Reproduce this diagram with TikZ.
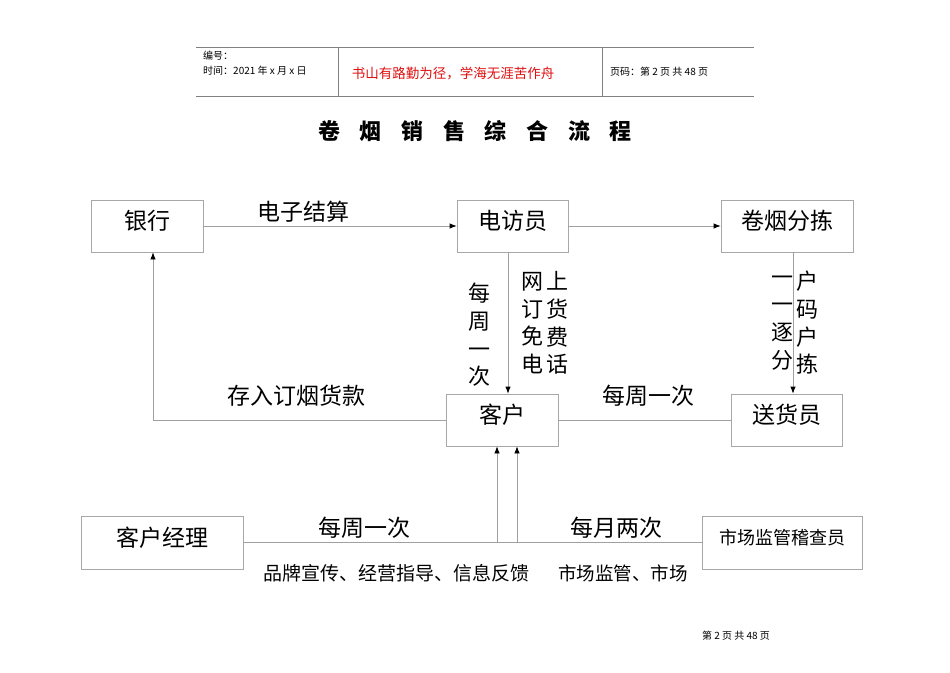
\documentclass[tikz,border=0pt]{standalone}
\usepackage{fontspec}
\setmainfont{Noto Sans CJK SC}
\usetikzlibrary{arrows.meta,calc}
\definecolor{boxgray}{HTML}{A8A8A8}
\definecolor{linegray}{HTML}{A0A0A0}
\definecolor{hdrgray}{HTML}{808080}
\definecolor{redtxt}{HTML}{E01010}
\tikzset{
  box/.style={draw=boxgray, line width=0.8pt, fill=white, inner sep=0pt, font=\fontsize{23}{27}\selectfont, text height=20pt, text depth=13pt},
  conn/.style={draw=linegray, line width=0.8pt},
  arr/.style={conn, -{Latex[length=7pt,width=5.5pt,color=black]}},
  lbl/.style={inner sep=0pt, font=\fontsize{23}{27}\selectfont},
  vlbl/.style={inner sep=0pt, align=center, font=\fontsize{22}{27.7}\selectfont},
  small/.style={inner sep=0pt, font=\fontsize{10}{12}\selectfont, anchor=west},
}
\begin{document}
\begin{tikzpicture}[x=1pt,y=-1pt]
\useasboundingbox (0,0) rectangle (950,672);
\fill[white] (0,0) rectangle (950,672);
% header
\draw[hdrgray, line width=0.8pt] (196,47) -- (754,47);
\draw[hdrgray, line width=0.8pt] (196,96) -- (754,96);
\draw[hdrgray, line width=0.8pt] (338,47) -- (338,96);
\draw[hdrgray, line width=0.8pt] (602,47) -- (602,96);
\node[small] (h1) at (203,56) {编号：};
\node[small] (h2) at (203,71) {时间：2021 年 x 月 x 日};
\node[inner sep=0pt, text=redtxt, font=\fontsize{13.5}{16}\selectfont] (h3) at (453,73) {书山有路勤为径，学海无涯苦作舟};
\node[small] (h4) at (610,72) {页码：第 2 页 共 48 页};
% title
\foreach \c [count=\i from 0] in {卷,烟,销,售,综,合,流,程}
  \node[inner sep=0pt, font=\fontsize{22}{26}\selectfont\bfseries] (t\i) at (329+41.7*\i,131) {\c};
% boxes
\node[box, minimum width=112pt, minimum height=52pt] (bank) at (147,226) {银行};
\node[box, minimum width=111pt, minimum height=52pt] (caller) at (512.5,226) {电访员};
\node[box, minimum width=132pt, minimum height=52pt] (sort) at (787,226) {卷烟分拣};
\node[box, minimum width=112pt, minimum height=52pt] (cust) at (502,420) {客户};
\node[box, minimum width=111pt, minimum height=52pt] (deliv) at (786.5,420) {送货员};
\node[box, minimum width=162pt, minimum height=53pt] (mgr) at (162,542.5) {客户经理};
\node[box, minimum width=160pt, minimum height=53pt, font=\fontsize{18}{22}\selectfont, text height=16pt, text depth=12.5pt] (insp) at (782,542.5) {市场监管稽查员};
% connectors
\draw[arr] (bank.east) -- (caller.west);
\draw[arr] (caller.east) -- (sort.west);
\draw[arr] ([xshift=-4.5pt]caller.south) -- ([xshift=-4.5pt]caller.south |- cust.north);
\draw[arr] ([xshift=6pt]sort.south) -- ([xshift=6pt]sort.south |- deliv.north);
\draw[arr] (cust.west) -| ([xshift=6pt]bank.south);
\draw[conn] (cust.east) -- (deliv.west);
\draw[conn] (mgr.east) -- (insp.west);
\coordinate (j1) at (497,542.5);
\coordinate (j2) at (517,542.5);
\draw[arr] (j1) -- (j1 |- cust.south);
\draw[arr] (j2) -- (j2 |- cust.south);
% labels
\node[lbl] (l1) at (303,212) {电子结算};
\node[lbl] (l2) at (296,396) {存入订烟货款};
\node[lbl] (l3) at (648,396) {每周一次};
\node[lbl] (l4) at (364,528) {每周一次};
\node[lbl] (l5) at (616,528) {每月两次};
\node[vlbl] (v1) at (479,335) {每\\周\\一\\次};
\node[vlbl] (v2) at (532,323) {网\\订\\免\\电};
\node[vlbl] (v3) at (557,323) {上\\货\\费\\话};
\node[vlbl] (v4) at (782,323) {一\\一\\逐\\分};
\node[vlbl] (v5) at (807,323) {户\\码\\户\\拣};
\node[inner sep=0pt, anchor=west, font=\fontsize{19}{22}\selectfont] (b1) at (263,573) {品牌宣传、经营指导、信息反馈};
\node[inner sep=0pt, anchor=west, font=\fontsize{18.5}{22}\selectfont] (b2) at (558,573) {市场监管、市场};
% footer
\node[inner sep=0pt, font=\fontsize{10}{12}\selectfont] (f1) at (736,636) {第 2 页 共 48 页};
\end{tikzpicture}
\end{document}
